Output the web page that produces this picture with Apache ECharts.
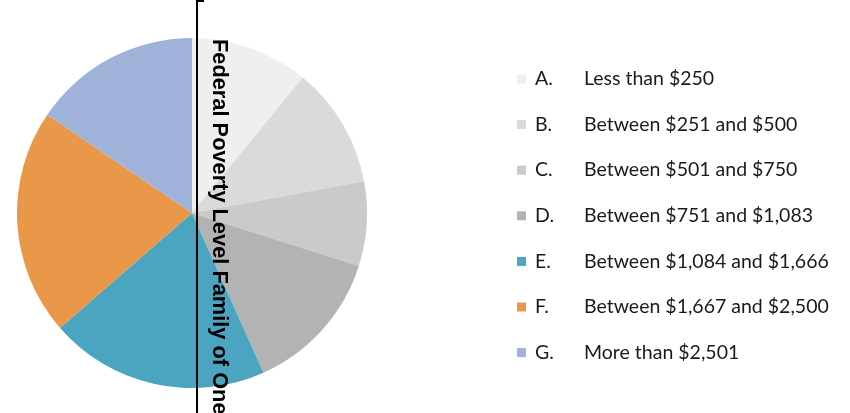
<!DOCTYPE html>
<html>
<head>
<meta charset="utf-8">
<script src="https://cdn.jsdelivr.net/npm/echarts@6/dist/echarts.min.js"></script>
<style>
  html, body { margin: 0; padding: 0; background: #ffffff; }
  #chart { width: 850px; height: 413px; }
</style>
</head>
<body>
<div id="chart"></div>
<script>
// Monthly income brackets (share of households, %)
const letters = ['A.', 'B.', 'C.', 'D.', 'E.', 'F.', 'G.'];
const brackets = [
  'Less than $250',
  'Between $251 and $500',
  'Between $501 and $750',
  'Between $751 and $1,083',
  'Between $1,084 and $1,666',
  'Between $1,667 and $2,500',
  'More than $2,501'
];
const shares = [10.9, 11.2, 7.8, 13.4, 20.3, 20.9, 15.5];
const sliceColors = ['#efefef', '#dadada', '#cacaca', '#b3b3b3', '#4ba5c1', '#e99748', '#9fb3da'];

const markerText = 'Federal Poverty Level Family of One';

const chart = echarts.init(document.getElementById('chart'), null, { renderer: 'canvas' });

chart.setOption({
  animation: false,
  backgroundColor: '#ffffff',
  color: sliceColors,
  legend: {
    orient: 'vertical',
    left: 517,
    top: 69,
    padding: 0,
    icon: 'rect',
    itemWidth: 9,
    itemHeight: 9,
    itemGap: 25.6,
    selectedMode: false,
    data: brackets,
    formatter: function (name) {
      const i = brackets.indexOf(name);
      return '{k|' + letters[i] + '}{v|' + name + '}';
    },
    textStyle: {
      rich: {
        k: { width: 49, padding: [0, 0, 0, 4], fontFamily: 'Lato', fontSize: 19.5, color: '#1a1a1a', lineHeight: 20 },
        v: { fontFamily: 'Lato', fontSize: 19.5, color: '#1a1a1a', lineHeight: 20 }
      }
    }
  },
  series: [{
    type: 'pie',
    center: [192, 213],
    radius: 175,
    startAngle: 90,
    clockwise: true,
    silent: true,
    label: { show: false },
    labelLine: { show: false },
    itemStyle: { borderWidth: 0 },
    data: brackets.map((b, i) => ({ name: b, value: shares[i] }))
  }],
  graphic: [
    {
      type: 'line',
      z: 100,
      shape: { x1: 197, y1: 0, x2: 197, y2: 413 },
      style: { stroke: '#000000', lineWidth: 2 }
    },
    {
      type: 'line',
      z: 100,
      shape: { x1: 196, y1: 1, x2: 204, y2: 1 },
      style: { stroke: '#000000', lineWidth: 2 }
    },
    {
      type: 'text',
      z: 100,
      x: 219,
      y: 39,
      rotation: -Math.PI / 2,
      style: {
        text: markerText,
        fontFamily: 'Liberation Sans, Arial, sans-serif',
        fontWeight: 'bold',
        fontSize: 21.8,
        fill: '#000000',
        align: 'left',
        verticalAlign: 'middle'
      }
    }
  ]
});
</script>
</body>
</html>
